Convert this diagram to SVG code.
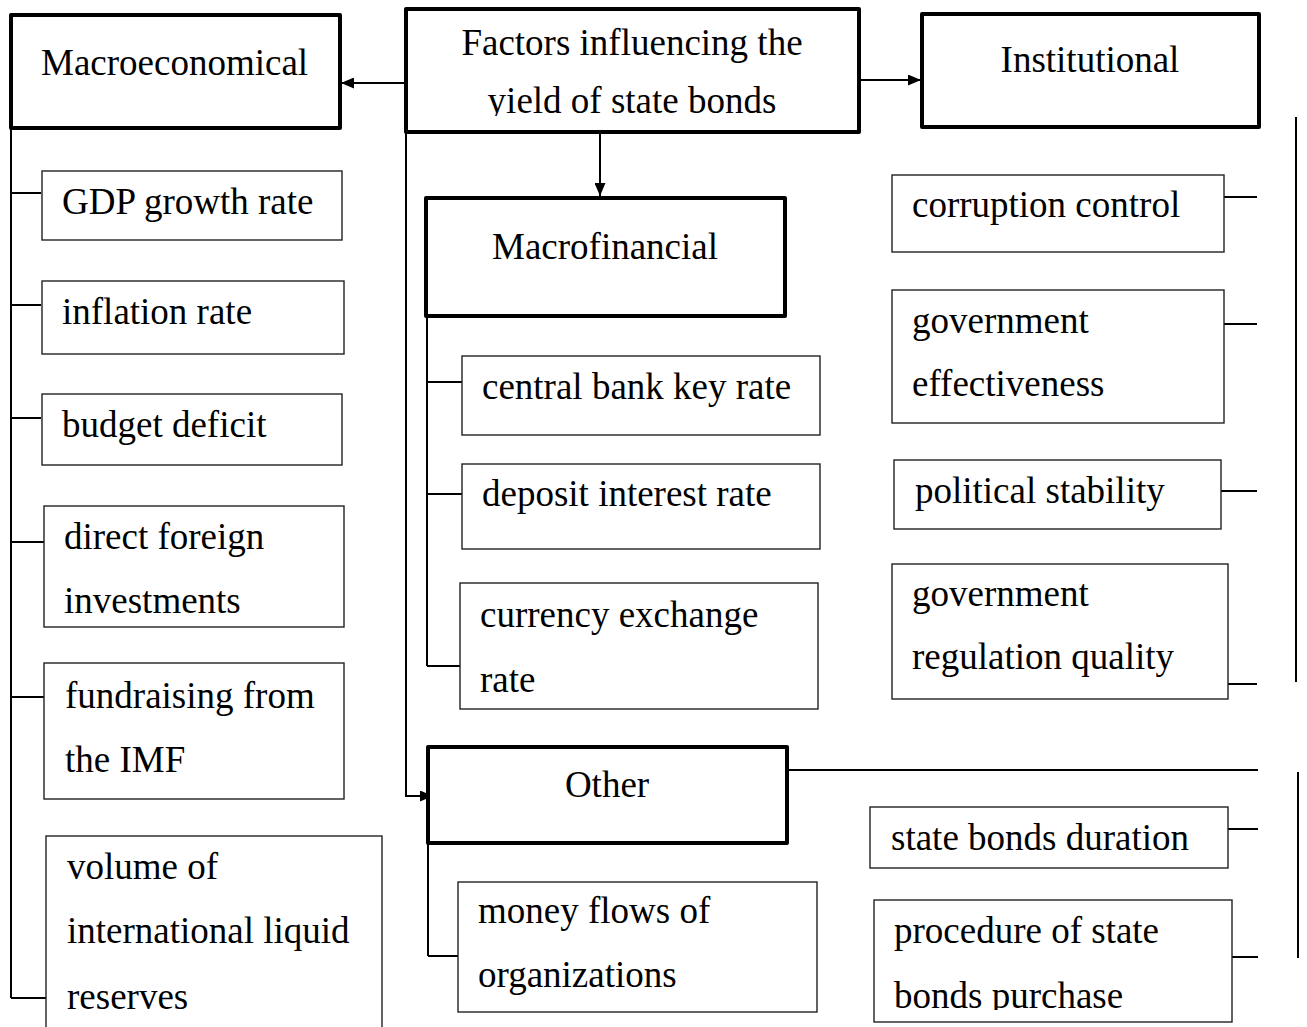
<svg xmlns="http://www.w3.org/2000/svg" width="1307" height="1027" viewBox="0 0 1307 1027">
<style>
text{font-family:"Liberation Serif","Times New Roman",serif;font-size:37px;fill:#000}
.thick{fill:#fff;stroke:#000;stroke-width:4;stroke-linejoin:round}
.thin{fill:#fff;stroke:#222;stroke-width:1.4}
.c{text-anchor:middle}
#connectors line,#connectors polyline{stroke:#000;stroke-width:2;fill:none}
</style>
<defs>
<marker id="ah" viewBox="0 0 13 11" refX="13" refY="5.5" markerWidth="13" markerHeight="11" markerUnits="userSpaceOnUse" orient="auto">
<path d="M0,0 L13,5.5 L0,11 Z" fill="#000"/>
</marker>
<clipPath id="clipTop"><rect x="404" y="7" width="455" height="109"/></clipPath>
<clipPath id="clipProc"><rect x="874" y="900" width="358" height="110"/></clipPath>
</defs>
<rect width="1307" height="1027" fill="#fff"/>

<g id="connectors">
<line x1="404" y1="83" x2="341" y2="83" marker-end="url(#ah)"/>
<line x1="859" y1="80" x2="921" y2="80" marker-end="url(#ah)"/>
<line x1="600" y1="132" x2="600" y2="196" marker-end="url(#ah)"/>
<polyline points="406,132 406,796 433,796" marker-end="url(#ah)"/>
<!-- macroeconomical trunk -->
<line x1="11" y1="128" x2="11" y2="998"/>
<line x1="11" y1="193" x2="41" y2="193"/>
<line x1="11" y1="305" x2="41" y2="305"/>
<line x1="11" y1="418" x2="41" y2="418"/>
<line x1="11" y1="542" x2="44" y2="542"/>
<line x1="11" y1="697" x2="44" y2="697"/>
<line x1="11" y1="998" x2="46" y2="998"/>
<!-- macrofinancial trunk -->
<line x1="427" y1="316" x2="427" y2="666"/>
<line x1="427" y1="382" x2="462" y2="382"/>
<line x1="427" y1="494" x2="462" y2="494"/>
<line x1="427" y1="666" x2="460" y2="666"/>
<!-- institutional -->
<line x1="1224" y1="197" x2="1257" y2="197"/>
<line x1="1224" y1="324" x2="1257" y2="324"/>
<line x1="1221" y1="491" x2="1257" y2="491"/>
<line x1="1228" y1="684" x2="1257" y2="684"/>
<line x1="1296" y1="117" x2="1296" y2="682"/>
<!-- other -->
<line x1="787" y1="770" x2="1258" y2="770"/>
<line x1="1228" y1="829" x2="1258" y2="829"/>
<line x1="1232" y1="957" x2="1258" y2="957"/>
<line x1="1298" y1="772" x2="1298" y2="958"/>
<line x1="428" y1="843" x2="428" y2="956"/>
<line x1="428" y1="956" x2="458" y2="956"/>
</g>

<g id="node-root">
<rect class="thick" x="406" y="9" width="453" height="123"/>
<g clip-path="url(#clipTop)">
<text class="c" x="632" y="55">Factors influencing the</text>
<text class="c" x="632" y="113">yield of state bonds</text>
</g>
</g>

<g id="node-macroeconomical">
<rect class="thick" x="11" y="15" width="329" height="113"/>
<text x="41" y="75">Macroeconomical</text>
</g>
<g id="node-institutional">
<rect class="thick" x="922" y="14" width="337" height="113"/>
<text class="c" x="1090" y="72">Institutional</text>
</g>
<g id="node-macrofinancial">
<rect class="thick" x="426" y="198" width="359" height="118"/>
<text x="492" y="259">Macrofinancial</text>
</g>
<g id="node-other">
<rect class="thick" x="428" y="747" width="359" height="96"/>
<text class="c" x="607" y="797">Other</text>
</g>

<g id="node-gdp">
<rect class="thin" x="42" y="171" width="300" height="69"/>
<text x="62" y="214">GDP growth rate</text>
</g>
<g id="node-inflation">
<rect class="thin" x="42" y="281" width="302" height="73"/>
<text x="62" y="324">inflation rate</text>
</g>
<g id="node-budget">
<rect class="thin" x="42" y="394" width="300" height="71"/>
<text x="62" y="437">budget deficit</text>
</g>
<g id="node-fdi">
<rect class="thin" x="44" y="506" width="300" height="121"/>
<text x="64" y="549">direct foreign</text>
<text x="64" y="613">investments</text>
</g>
<g id="node-imf">
<rect class="thin" x="44" y="663" width="300" height="136"/>
<text x="65" y="708">fundraising from</text>
<text x="65" y="772">the IMF</text>
</g>
<g id="node-reserves">
<rect class="thin" x="46" y="836" width="336" height="200"/>
<text x="67" y="879">volume of</text>
<text x="67" y="943">international liquid</text>
<text x="67" y="1009">reserves</text>
</g>

<g id="node-keyrate">
<rect class="thin" x="462" y="356" width="358" height="79"/>
<text x="482" y="399">central bank key rate</text>
</g>
<g id="node-deposit">
<rect class="thin" x="462" y="464" width="358" height="85"/>
<text x="482" y="506">deposit interest rate</text>
</g>
<g id="node-currency">
<rect class="thin" x="460" y="583" width="358" height="126"/>
<text x="480" y="627">currency exchange</text>
<text x="480" y="692">rate</text>
</g>

<g id="node-corruption">
<rect class="thin" x="892" y="175" width="332" height="77"/>
<text x="912" y="217">corruption control</text>
</g>
<g id="node-effectiveness">
<rect class="thin" x="892" y="290" width="332" height="133"/>
<text x="912" y="333">government</text>
<text x="912" y="396">effectiveness</text>
</g>
<g id="node-stability">
<rect class="thin" x="894" y="460" width="327" height="69"/>
<text x="915" y="503">political stability</text>
</g>
<g id="node-regulation">
<rect class="thin" x="892" y="564" width="336" height="135"/>
<text x="912" y="606">government</text>
<text x="912" y="669">regulation quality</text>
</g>

<g id="node-money">
<rect class="thin" x="458" y="882" width="359" height="130"/>
<text x="478" y="923">money flows of</text>
<text x="478" y="987">organizations</text>
</g>
<g id="node-duration">
<rect class="thin" x="870" y="807" width="358" height="61"/>
<text x="891" y="850">state bonds duration</text>
</g>
<g id="node-procedure">
<rect class="thin" x="874" y="900" width="358" height="122"/>
<g clip-path="url(#clipProc)">
<text x="894" y="943">procedure of state</text>
<text x="894" y="1008">bonds purchase</text>
</g>
</g>
</svg>
